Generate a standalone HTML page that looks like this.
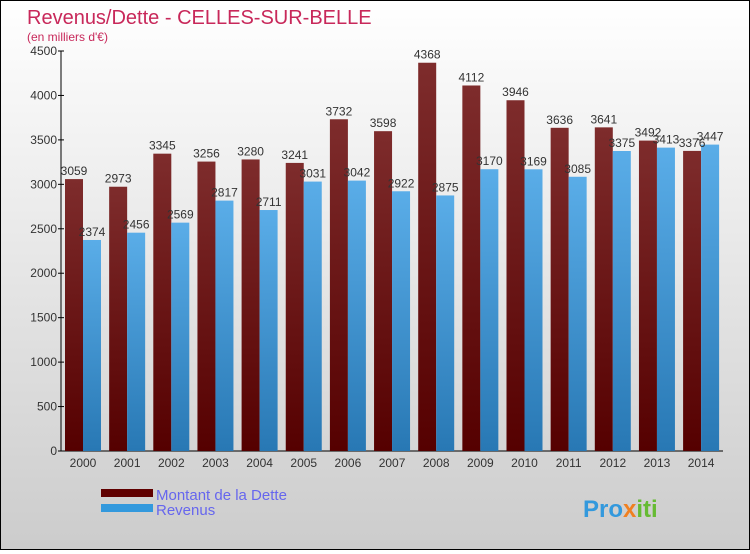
<!DOCTYPE html>
<html><head><meta charset="utf-8"><style>
body{margin:0}
#c{width:748px;height:548px;border:1px solid #000;background:linear-gradient(#fff,#ccc);position:relative;font-family:"Liberation Sans",sans-serif}
</style></head><body>
<div id="c">
<svg width="748" height="548" id="s">
<defs>
<linearGradient id="gd" x1="0" y1="0" x2="0" y2="1"><stop offset="0" stop-color="#7e2c2c"/><stop offset="1" stop-color="#550000"/></linearGradient>
<linearGradient id="gr" x1="0" y1="0" x2="0" y2="1"><stop offset="0" stop-color="#5aade8"/><stop offset="1" stop-color="#2878b4"/></linearGradient>
</defs>
<text x="26" y="23" font-size="20" fill="#c8285a">Revenus/Dette - CELLES-SUR-BELLE</text>
<text x="26" y="40" font-size="12" fill="#c8285a">(en milliers d'€)</text>
<g id="g"></g>
<rect x="100" y="488" width="52" height="8" fill="#600000"/>
<rect x="100" y="503" width="52" height="8" fill="#3399dd"/>
<text x="155" y="499" font-size="15" fill="#6666ee">Montant de la Dette</text>
<text x="155" y="514" font-size="15" fill="#6666ee">Revenus</text>
<text x="582" y="516" font-size="24" font-weight="bold" fill="#3399dd">Pro<tspan fill="#f08020">x</tspan><tspan fill="#66bb33">iti</tspan></text>
</svg>
</div>
<script>
const years=["2000","2001","2002","2003","2004","2005","2006","2007","2008","2009","2010","2011","2012","2013","2014"];
const dette=[3059,2973,3345,3256,3280,3241,3732,3598,4368,4112,3946,3636,3641,3492,3376];
const revenus=[2374,2456,2569,2817,2711,3031,3042,2922,2875,3170,3169,3085,3375,3413,3447];
const ticks=[0,500,1000,1500,2000,2500,3000,3500,4000,4500];
const NS="http://www.w3.org/2000/svg";
const g=document.getElementById('g');
const y=v=>450-v*400/4500;
const cx=i=>82+i*44.15;
function mk(t,a){const e=document.createElementNS(NS,t);for(const k in a)e.setAttribute(k,a[k]);g.appendChild(e);return e;}
let ax=mk('line',{x1:60,y1:y(4500),x2:60,y2:450,stroke:'#000'});


let bx=mk('line',{x1:60,y1:450,x2:722,y2:450,stroke:'#000'});


ticks.forEach(t=>{
 const l=mk('line',{x1:57,x2:63,y1:y(t),y2:y(t),stroke:'#000'});
 
 
 const tx=mk('text',{x:56,y:y(t)+4,'font-size':12,'text-anchor':'end',fill:'#333'});tx.textContent=t;
 
 
});
years.forEach((yr,i)=>{
 const c=cx(i);
 const d=mk('rect',{x:c-18,y:y(dette[i]),width:18,height:450-y(dette[i]),fill:'url(#gd)'});
 
 
 const r=mk('rect',{x:c,y:y(revenus[i]),width:18,height:450-y(revenus[i]),fill:'url(#gr)'});
 
 
 const t1=mk('text',{x:c-9,y:y(dette[i])-4,'font-size':12,'text-anchor':'middle',fill:'#333'});t1.textContent=dette[i];
 
 
 const t2=mk('text',{x:c+9,y:y(revenus[i])-4,'font-size':12,'text-anchor':'middle',fill:'#333'});t2.textContent=revenus[i];
 
 
 const xl=mk('text',{x:c,y:466,'font-size':12,'text-anchor':'middle',fill:'#333'});xl.textContent=yr;
 
 
});
</script>
</body></html>
